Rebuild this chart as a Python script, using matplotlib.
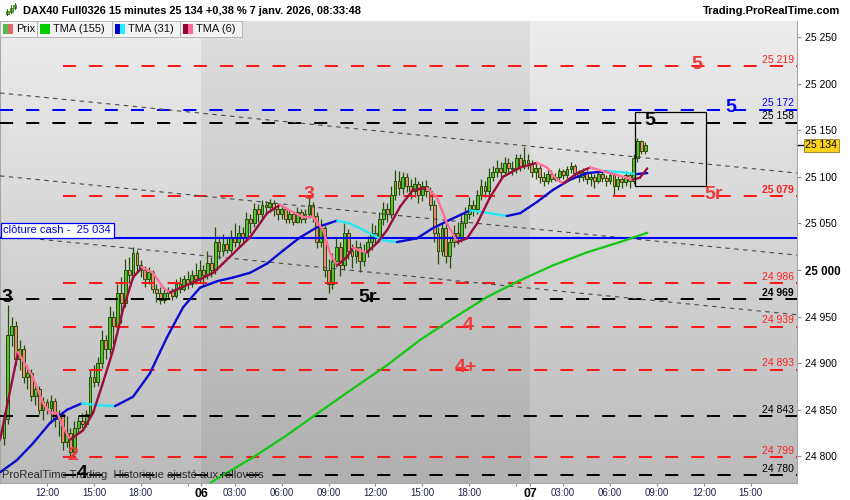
import datetime as dt
import numpy as np
import matplotlib
matplotlib.use('Agg')
import matplotlib.pyplot as plt
import matplotlib.transforms as mtransforms
from matplotlib.collections import LineCollection
from matplotlib.colors import LinearSegmentedColormap
from matplotlib.patches import Rectangle

plt.rcParams['font.family'] = ['Liberation Sans', 'DejaVu Sans']

# ---- candles (15 min bars, 5 janv. 09:15 -> 7 janv. 08:15) ----
first_open = 24820
closes = [
    24840, 24930, 24940, 24905, 24915, 24885, 24890, 24865, 24872, 24850, 24858, 24852,
    24860, 24840, 24845, 24815, 24825, 24805, 24830, 24838, 24835, 24845, 24885, 24880,
    24900, 24925, 24915, 24950, 24940, 24975, 24965, 25000, 24995, 25018, 25005, 25000,
    24990, 24998, 24980, 24975, 24968, 24975, 24978, 24972, 24985, 24980, 24990, 24985,
    24995, 24990, 25000, 24995, 25008, 25000, 25030, 25020, 25028, 25022, 25035, 25030,
    25040, 25035, 25055, 25050, 25065, 25060, 25070, 25068, 25072, 25065, 25060, 25065,
    25055, 25060, 25052, 25062, 25055, 25060, 25070, 25058, 25030, 25045, 25000, 24985,
    25010, 25025, 25005, 25040, 25020, 25015, 25025, 25010, 25020, 25030, 25040, 25035,
    25055, 25065, 25060, 25080, 25095, 25088, 25100, 25090, 25085, 25092, 25080, 25090,
    25085, 25070, 25040, 25020, 25045, 25015, 25030, 25040, 25035, 25050, 25060, 25070,
    25065, 25080, 25090, 25085, 25100, 25105, 25110, 25105, 25115, 25110, 25108, 25120,
    25112, 25118, 25115, 25105, 25110, 25100, 25095, 25103, 25098, 25100, 25106, 25102,
    25108, 25112, 25104, 25100, 25105, 25098, 25100, 25096, 25103, 25099, 25096, 25102,
    25090, 25098, 25094, 25102, 25096, 25120, 25138, 25128, 25134]
highs = [
    24848, 24962, 24950, 24945, 24925, 24920, 24898, 24894, 24878, 24876, 24864, 24862,
    24866, 24863, 24850, 24848, 24843, 24830, 24838, 24843, 24847, 24850, 24893, 24898,
    24907, 24936, 24930, 24961, 24956, 24985, 24993, 25012, 25014, 25025, 25022, 25011,
    25004, 25003, 25000, 24985, 24982, 24980, 24982, 24981, 24990, 24993, 24995, 24999,
    25000, 25008, 25011, 25005, 25020, 25014, 25046, 25036, 25039, 25034, 25043, 25050,
    25048, 25046, 25062, 25060, 25072, 25071, 25075, 25074, 25076, 25075, 25070, 25070,
    25068, 25066, 25063, 25068, 25066, 25065, 25078, 25073, 25062, 25055, 25048, 25012,
    25018, 25035, 25030, 25050, 25044, 25028, 25032, 25030, 25028, 25036, 25050, 25048,
    25062, 25073, 25072, 25090, 25107, 25106, 25105, 25104, 25098, 25100, 25096, 25096,
    25097, 25089, 25075, 25046, 25052, 25050, 25036, 25048, 25052, 25061, 25068, 25078,
    25075, 25086, 25098, 25096, 25110, 25112, 25118, 25116, 25121, 25120, 25117, 25125,
    25124, 25132, 25125, 25118, 25115, 25113, 25105, 25108, 25107, 25104, 25110, 25108,
    25112, 25116, 25114, 25107, 25109, 25107, 25104, 25103, 25106, 25105, 25102, 25105,
    25104, 25101, 25100, 25106, 25104, 25124, 25142, 25140, 25137]
lows = [
    24812, 24835, 24918, 24898, 24893, 24879, 24872, 24860, 24855, 24845, 24839, 24846,
    24836, 24832, 24822, 24807, 24810, 24800, 24802, 24825, 24830, 24832, 24843, 24874,
    24876, 24895, 24905, 24910, 24921, 24935, 24943, 24960, 24986, 24990, 24998, 24993,
    24982, 24985, 24975, 24966, 24964, 24965, 24970, 24968, 24970, 24975, 24977, 24980,
    24982, 24985, 24986, 24984, 24990, 24993, 24996, 25012, 25015, 25018, 25018, 25025,
    25026, 25028, 25031, 25040, 25046, 25052, 25055, 25060, 25062, 25058, 25054, 25055,
    25050, 25050, 25048, 25050, 25050, 25051, 25056, 25052, 25024, 25025, 24992, 24975,
    24980, 25003, 24994, 25000, 25012, 25002, 25008, 24998, 25004, 25014, 25022, 25028,
    25030, 25048, 25052, 25056, 25075, 25080, 25082, 25084, 25076, 25078, 25072, 25074,
    25078, 25064, 25030, 25007, 25015, 25008, 25002, 25025, 25028, 25030, 25045, 25055,
    25058, 25060, 25075, 25078, 25080, 25095, 25100, 25100, 25102, 25104, 25102, 25104,
    25106, 25108, 25108, 25100, 25098, 25093, 25090, 25092, 25094, 25095, 25097, 25098,
    25099, 25104, 25100, 25094, 25096, 25092, 25090, 25088, 25093, 25094, 25090, 25092,
    25080, 25086, 25088, 25090, 25088, 25092, 25116, 25124, 25125]

# ---- moving averages (bar position, value) ----
tma155_bar = [51.4, 55.2, 63.7, 72.4, 80.8, 89.3, 98.0, 106.4, 114.8, 123.5, 132.0, 140.4, 149.1, 157.5, 164.5]
tma155_val = [24768, 24778, 24799, 24823, 24848, 24873, 24898, 24925, 24948, 24971, 24989, 25005, 25019, 25030, 25040]

tma31_bar = [-1.0, 3.3, 7.4, 11.8, 16.1, 19.9, 24.0, 28.4, 33.0, 37.3, 41.7, 45.8, 50.1, 54.5, 58.6, 62.9,
             67.3, 71.4, 75.7, 80.1, 85.2, 88.5, 92.8, 96.9, 100.5, 105.6, 109.7, 114.1, 119.2, 124.3,
             128.6, 132.0, 136.3, 140.4, 144.8, 149.1, 154.2, 158.1, 161.9, 164.5]
tma31_val = [24783, 24796, 24814, 24836, 24850, 24857, 24855, 24854, 24864, 24889, 24928, 24960, 24981, 24988,
             24992, 24997, 25007, 25021, 25035, 25046, 25053, 25050, 25041, 25032, 25030, 25034, 25045, 25054,
             25064, 25061, 25058, 25061, 25073, 25086, 25097, 25104, 25106, 25105, 25103, 25104]

tma6_bar = [-1.0, 3.6, 7.4, 10.0, 11.8, 13.6, 15.1, 16.9, 20.2, 22.8, 25.3, 27.9, 30.4, 33.0, 35.3, 38.1,
            40.7, 42.5, 46.8, 50.1, 53.5, 56.0, 60.4, 62.9, 67.3, 70.6, 73.9, 76.5, 79.0, 81.6, 83.4, 85.2,
            87.7, 89.3, 91.0, 92.8, 95.4, 98.0, 101.3, 104.6, 108.2, 110.7, 113.3, 115.9, 118.4, 121.0,
            124.3, 127.6, 132.0, 136.3, 138.9, 141.4, 143.0, 146.6, 149.9, 154.2, 159.3, 160.8, 162.6, 164.5]
tma6_val = [24818, 24912, 24885, 24857, 24847, 24847, 24832, 24818, 24828, 24847, 24879, 24914, 24957, 24992,
            25003, 24997, 24981, 24976, 24984, 24990, 24997, 25007, 25025, 25035, 25061, 25070, 25062, 25057,
            25057, 25043, 25018, 25005, 25014, 25024, 25021, 25019, 25029, 25043, 25068, 25086, 25088, 25078,
            25050, 25030, 25034, 25050, 25078, 25100, 25110, 25115, 25110, 25097, 25093, 25104, 25110, 25105,
            25099, 25097, 25099, 25109]

# ---- horizontal levels ----
level_price = [25219, 25172, 25158, 25079, 24986, 24969, 24939, 24893, 24843, 24799, 24780]
level_color = ['red', 'blue', 'black', 'red', 'red', 'black', 'red', 'red', 'black', 'red', 'black']
level_from = [15, -1.02, -1.02, 15, 15, -1.02, 15, 15, -1.02, 15, 15]
level_bold = [25079, 24969]

wave_text = ['5', '5', '5', '5r', '3', '3', '5r', '4', '4+', '2', '4']
wave_bar = [177.2, 186.0, 165.2, 181.6, 78.0, 0.8, 93.1, 118.7, 118.2, 17.6, 19.9]
wave_price = [25219, 25172, 25158, 25079, 25079, 24969, 24969, 24939, 24893, 24799, 24780]
wave_color = ['red', 'blue', 'black', 'red', 'red', 'black', 'black', 'red', 'red', 'red', 'black']

cash_close = 25034
last_price = 25134

# dotted trend lines (start bar, start price, end bar, end price)
trend_x0 = [-1.02, -1.02, 9.2]
trend_p0 = [25190, 25101, 25033]
trend_x1 = [202.8, 202.8, 202.8]
trend_p1 = [25104, 25016, 24952]

box_bars = (161.4, 179.5)
box_prices = (25090, 25169.5)

RED = '#ff1a1a'
COLS = {'red': RED, 'blue': '#0000ff', 'black': 'black'}
TXT_COLS = {'red': '#ee3a3a', 'blue': '#0000ff', 'black': 'black'}

# ---- time axis ----
times = []
for day, h0, m0 in [(5, 9, 15), (6, 1, 0), (7, 1, 0)]:
    t = dt.datetime(2026, 1, day, h0, m0)
    end = dt.datetime(2026, 1, day, 21, 45)
    while t <= end:
        times.append(t)
        t += dt.timedelta(minutes=15)

XMIN, XMAX = -1.02, 202.8
YMIN, YMAX = 24771.5, 25267.2

fig = plt.figure(figsize=(8.5, 5), dpi=100)
fig.patch.set_facecolor('white')
ax = fig.add_axes([0, 17 / 500, 797 / 850, 462 / 500])

# background gradient + darker band for the 6th
grad = np.linspace(0, 1, 256).reshape(-1, 1)
cmap = LinearSegmentedColormap.from_list('bg', ['#bbbbbb', '#ededed'])
ax.imshow(grad, extent=[XMIN, XMAX, YMIN, YMAX], origin='lower', aspect='auto', cmap=cmap, zorder=0)
ax.axvspan(50.5, 134.5, color='black', alpha=0.06, lw=0, zorder=0.5)

# candles
c = np.array(closes, dtype=float)
o = np.r_[first_open, c[:-1]]
h = np.array(highs, dtype=float)
l = np.array(lows, dtype=float)
idx = np.arange(len(c))
up = c >= o
edge = '#264f06'
ax.vlines(idx, l, h, color=edge, lw=0.9, zorder=2)
body = np.maximum(np.abs(c - o), 1.0)
base = np.minimum(o, c)
ax.bar(idx[up], body[up], bottom=base[up], width=0.72, color='#50c42a', edgecolor=edge, lw=0.7, zorder=2.1)
ax.bar(idx[~up], body[~up], bottom=base[~up], width=0.72, color='#ee8a7a', edgecolor=edge, lw=0.7, zorder=2.1)

# levels
for p, col, x0 in zip(level_price, level_color, level_from):
    ax.plot([x0, XMAX], [p, p], color=COLS[col], lw=1.45, ls=(0, (6.5, 6.5)), zorder=3)
    ax.annotate(f"{p:,}".replace(',', ' '), xy=(0.996, p), xycoords=('axes fraction', 'data'),
                xytext=(0, 1), textcoords='offset points', ha='right', va='bottom',
                fontsize=7.5, color='#ff2020' if col == 'red' else COLS[col],
                fontweight='bold' if p in level_bold else 'normal', zorder=6)

for x0, p0, x1, p1 in zip(trend_x0, trend_p0, trend_x1, trend_p1):
    ax.plot([x0, x1], [p0, p1], color='#4a4a4a', lw=0.8, ls=(0, (4, 4)), zorder=3)

ax.axhline(cash_close, color='#0000ff', lw=1.5, zorder=3.5)
ax.annotate('clôture cash -  25 034', xy=(0.0, cash_close), xycoords=('axes fraction', 'data'),
            xytext=(2.5, 2.2), textcoords='offset points', ha='left', va='bottom', fontsize=8,
            color='#0000ee', zorder=6,
            bbox=dict(boxstyle='square,pad=0.22', fc='white', ec='#0000ff', lw=0.9))


def slope_line(xs, ys, up_col, down_col, lw, z):
    pts = np.column_stack([xs, ys])
    segs = np.stack([pts[:-1], pts[1:]], axis=1)
    cols = [up_col if b > a else down_col for a, b in zip(ys[:-1], ys[1:])]
    ax.add_collection(LineCollection(segs, colors=cols, linewidths=lw, capstyle='round',
                                     joinstyle='round', zorder=z))


slope_line(tma155_bar, tma155_val, '#12c812', '#12c812', 1.6, 4)
slope_line(tma31_bar, tma31_val, '#0a0ad0', '#22e8f5', 1.7, 4.1)
slope_line(tma6_bar, tma6_val, '#9b0d3d', '#ff7099', 1.7, 4.2)

# wave labels
for txt, xb, p, col in zip(wave_text, wave_bar, wave_price, wave_color):
    ax.text(xb, p + 2, txt, ha='center', va='center', fontsize=14, fontweight='bold',
            color=TXT_COLS[col], zorder=6)

ax.add_patch(Rectangle((box_bars[0], box_prices[0]), box_bars[1] - box_bars[0],
                       box_prices[1] - box_prices[0], fill=False, ec='black', lw=0.9, zorder=5))

ax.text(0.003, 0.018, 'ProRealTime Trading  Historique ajusté aux rollovers', transform=ax.transAxes,
        fontsize=8, color='#2a2a2a', va='center', ha='left', zorder=5.5)

# x ticks (only those inside the visible range)
tick_pos, tick_lab, day_flags = [], [], []
for i, t in enumerate(times):
    if i > 0 and t.date() != times[i - 1].date():
        tick_pos.append(i - 0.5)
        tick_lab.append(t.strftime('%d'))
        day_flags.append(True)
    if t.minute == 0 and t.hour % 3 == 0 and i < XMAX:
        tick_pos.append(i)
        tick_lab.append('' if t.hour == 21 else t.strftime('%H:%M'))
        day_flags.append(False)
ax.set_xticks(tick_pos)
ax.set_xticklabels(tick_lab)
ax.tick_params(axis='x', direction='out', length=2, color='#909090', labelsize=7,
               labelcolor='#20204a', pad=1.5)
for lab, is_day in zip(ax.get_xticklabels(), day_flags):
    if is_day:
        lab.set_fontweight('bold')
        lab.set_fontsize(8.8)
        lab.set_color('black')

# y ticks on the right
ax.yaxis.tick_right()
yt = list(range(24800, 25251, 50))
ax.set_yticks(yt)
ax.set_yticklabels([f"{v:,}".replace(',', ' ') for v in yt])
ax.tick_params(axis='y', direction='out', length=3, color='#909090', labelsize=7.5, pad=3)
for lab, v in zip(ax.get_yticklabels(), yt):
    if v == 25000:
        lab.set_fontweight('bold')
        lab.set_fontsize(8.3)

ax.set_xlim(XMIN, XMAX)
ax.set_ylim(YMIN, YMAX)

for side in ['left', 'right', 'bottom']:
    ax.spines[side].set_color('#a8a8a8')
    ax.spines[side].set_linewidth(0.8)
ax.spines['top'].set_visible(False)

# last price tag
trans = mtransforms.blended_transform_factory(ax.transAxes, ax.transData)
ax.plot([1.0, 1.008], [last_price, last_price], color='black', lw=1, transform=trans, clip_on=False)
ax.annotate('25 134', xy=(1.0, last_price), xycoords=('axes fraction', 'data'), xytext=(6, 0),
            textcoords='offset points', ha='left', va='center', fontsize=7.5, color='black',
            annotation_clip=False,
            bbox=dict(boxstyle='square,pad=0.15', fc='#ffd21a', ec='#9c8a3a', lw=0.7))


# ---- header ----
def fx(x):
    return x / 850


def fy(y):
    return 1 - y / 500


fig.text(fx(23), fy(10.5), 'DAX40 Full0326 15 minutes 25 134 +0,38 % 7 janv. 2026, 08:33:48',
         fontsize=7.9, fontweight='bold', va='center', ha='left')
fig.text(fx(840), fy(10.5), 'Trading.ProRealTime.com', fontsize=8, fontweight='bold',
         va='center', ha='right')

# small candle icon
for cx, y0, y1, b0, b1 in [(7, 15, 9, 14, 11), (11, 13, 5, 12, 8), (15, 9, 3, 8, 5)]:
    fig.add_artist(plt.Line2D([fx(cx), fx(cx)], [fy(y0), fy(y1)], color='#2a6a10', lw=0.7))
    fig.add_artist(Rectangle((fx(cx - 1.5), fy(b0)), fx(3), fy(b1) - fy(b0), fc='#5cc83c',
                             ec='#2a6a10', lw=0.5))

legend_items = [(0, 37, 'Prix', '#55b94e', '#e06a6a'),
                (37, 112, 'TMA (155)', '#00cc00', '#00cc00'),
                (112, 180, 'TMA (31)', '#0000cc', '#22f0ff'),
                (180, 242, 'TMA (6)', '#990033', '#ff6699')]
for x0, x1, name, c1, c2 in legend_items:
    fig.add_artist(Rectangle((fx(x0), fy(37)), fx(x1 - x0), fy(21) - fy(37), fc='#f3f3f3',
                             ec='#b4b4b4', lw=0.7))
    fig.add_artist(Rectangle((fx(x0 + 3), fy(34)), fx(5), fy(24) - fy(34), fc=c1, ec='none'))
    fig.add_artist(Rectangle((fx(x0 + 8), fy(34)), fx(5), fy(24) - fy(34), fc=c2, ec='none'))
    fig.text(fx(x0 + 16), fy(29.5), name, fontsize=8, va='center', ha='left', color='#111111')

fig.savefig('out.png', dpi=100)
